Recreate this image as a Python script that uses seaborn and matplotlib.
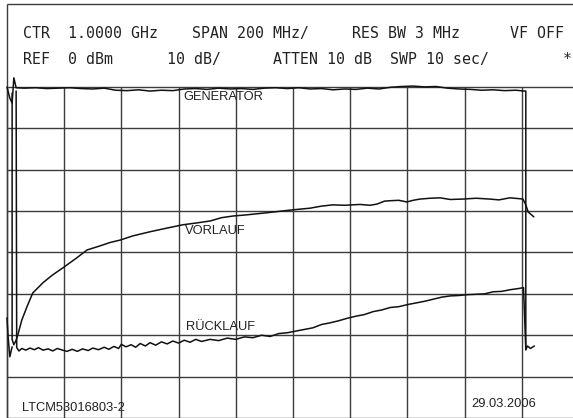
import numpy as np
import pandas as pd
import seaborn as sns
import matplotlib.pyplot as plt

# x in graticule divisions (0..10), y in dBm (REF 0 dBm, 10 dB/div)
gen_x = [0.0, 0.05, 0.09, 0.12, 0.16, 0.3, 0.5, 0.7, 0.9, 1.1, 1.3, 1.5, 1.7, 1.9,
         2.1, 2.3, 2.5, 2.7, 2.9, 3.1, 3.3, 3.5, 3.7, 3.9, 4.1, 4.3, 4.5, 4.7, 4.9,
         5.1, 5.3, 5.5, 5.7, 5.9, 6.1, 6.3, 6.5, 6.7, 6.9, 7.1, 7.3, 7.5, 7.7, 7.9,
         8.1, 8.3, 8.5, 8.7, 8.9, 9.03, 9.07, 9.07]
gen_y = [0.0, -2.7, -3.9, 2.2, -0.2, -0.3, -0.2, -0.4, -0.3, -0.2, -0.4, -0.5, -0.3, -0.8,
         -0.9, -0.7, -1.0, -0.8, -0.9, -0.5, -0.4, -0.6, -0.3, -0.5, -0.4, -0.6, -0.3, -0.2, -0.4,
         -0.2, -0.5, -0.4, -0.7, -0.5, -0.6, -0.3, -0.5, -0.1, 0.1, 0.2, 0.0, 0.1, -0.3, -0.5,
         -0.6, -0.8, -0.7, -0.9, -0.8, -1.0, -1.0, -63.5]

vor_x = [0.09, 0.09, 0.12, 0.16, 0.19, 0.26, 0.35, 0.45, 0.63, 0.80, 0.98, 1.22, 1.40, 1.63,
         1.80, 1.98, 2.2, 2.5, 2.8, 3.08, 3.3, 3.55, 3.75, 3.95, 4.2, 4.55, 4.8, 5.0, 5.3,
         5.5, 5.7, 5.9, 6.17, 6.35, 6.47, 6.6, 6.7, 6.85, 6.99, 7.1, 7.22, 7.4, 7.57, 7.75,
         7.97, 8.2, 8.44, 8.6, 8.79, 8.95, 9.02, 9.07, 9.11, 9.21]
vor_y = [-1.5, -61.0, -62.3, -61.2, -59.9, -56.3, -53.1, -49.8, -47.3, -45.4, -43.7, -41.3, -39.4, -38.4,
         -37.6, -37.0, -36.0, -35.0, -34.1, -33.3, -32.9, -32.4, -31.6, -31.2, -30.9, -30.4, -30.0, -29.7, -29.3,
         -28.8, -28.5, -28.6, -28.4, -28.6, -28.3, -27.6, -27.5, -27.4, -27.8, -27.4, -27.1, -26.9, -26.8, -27.2,
         -27.1, -26.9, -27.1, -27.3, -26.8, -27.0, -27.1, -28.5, -30.2, -31.4]

rue_x = [0.16, 0.17, 0.21, 0.26, 0.33, 0.40, 0.48, 0.55, 0.63, 0.72, 0.80, 0.88, 0.97, 1.05,
         1.14, 1.23, 1.32, 1.42, 1.50, 1.60, 1.70, 1.78, 1.87, 1.95, 2.00, 2.08, 2.17, 2.25,
         2.33, 2.42, 2.50, 2.60, 2.70, 2.80, 2.90, 3.00, 3.10, 3.20, 3.30, 3.40, 3.55, 3.70,
         3.85, 4.00, 4.15, 4.30, 4.45, 4.60, 4.75, 4.90, 5.05, 5.20, 5.35, 5.50, 5.65, 5.80,
         5.95, 6.10, 6.25, 6.40, 6.55, 6.70, 6.85, 7.00, 7.15, 7.30, 7.45, 7.60, 7.75, 7.90,
         8.05, 8.20, 8.35, 8.50, 8.65, 8.80, 8.95, 9.03, 9.07, 9.10, 9.15, 9.22]
rue_y = [-1.0, -63.0, -63.8, -63.2, -63.6, -63.1, -63.5, -63.0, -63.6, -63.3, -63.8, -63.2, -63.6, -63.9,
         -63.4, -63.9, -63.3, -63.7, -63.1, -63.5, -62.9, -63.4, -62.7, -63.2, -62.2, -62.8, -62.3, -62.9,
         -62.0, -62.6, -61.8, -62.4, -61.6, -62.1, -61.4, -61.9, -61.2, -61.7, -61.0, -61.5, -61.0, -61.3,
         -60.7, -61.0, -60.4, -60.6, -60.0, -60.3, -59.6, -59.4, -59.0, -58.6, -58.2, -57.4, -57.0, -56.5,
         -55.9, -55.4, -55.0, -54.3, -53.9, -53.3, -53.1, -52.6, -52.2, -51.8, -51.3, -50.8, -50.5, -50.4,
         -50.2, -50.1, -50.0, -49.5, -49.4, -49.0, -48.7, -48.5, -63.5, -62.6, -63.2, -62.6]

# short retrace wiggle at the far left
start_x = [0.0, 0.02, 0.05, 0.09]
start_y = [-55.8, -60.4, -65.2, -62.8]

header_1 = [(0.28, "CTR"), (1.07, "1.0000 GHz"), (3.23, "SPAN 200 MHz/"),
            (6.03, "RES BW 3 MHz"), (8.79, "VF OFF")]
header_2 = [(0.28, "REF"), (1.07, "0 dBm"), (2.80, "10 dB/"),
            (4.65, "ATTEN 10 dB"), (6.70, "SWP 10 sec/"), (9.72, "*")]

trace_labels = [(3.08, -2.4, "GENERATOR"), (3.11, -34.8, "VORLAUF"), (3.13, -58.0, "RÜCKLAUF")]

sns.set_style("white")

fig = plt.figure(figsize=(5.73, 4.18), dpi=100)
ax = fig.add_axes([0, 0, 1, 1])

grid_col = "#3c3c3c"
ax.vlines(np.arange(0, 11), -80, 0, color=grid_col, lw=1.0, zorder=1)
ax.hlines(np.arange(-80, 1, 10), 0, 10, color=grid_col, lw=1.0, zorder=1)
ax.vlines([0], -80, 20, color=grid_col, lw=1.0, zorder=1)
ax.hlines([20], 0, 10, color=grid_col, lw=1.0, zorder=1)

for xs, ys in [(gen_x, gen_y), (vor_x, vor_y), (rue_x, rue_y), (start_x, start_y)]:
    df = pd.DataFrame({"div": xs, "db": ys})
    sns.lineplot(data=df, x="div", y="db", ax=ax, sort=False, estimator=None,
                 color="#111111", lw=1.1, zorder=3)

# instrument header (plotter font)
for x, s in header_1:
    ax.text(x, 13.0, s, family="DejaVu Sans Mono", fontsize=10.7, color="#222222",
            va="center", ha="left")
for x, s in header_2:
    ax.text(x, 6.6, s, family="DejaVu Sans Mono", fontsize=10.7, color="#222222",
            va="center", ha="left")

for x, y, s in trace_labels:
    ax.text(x, y, s, family="Liberation Sans", fontsize=9.3, color="#222222",
            va="center", ha="left", zorder=4)

ax.text(0.26, -77.5, "LTCM53016803-2", family="Liberation Sans", fontsize=9.3,
        color="#222222", va="center", ha="left")
ax.text(8.11, -76.6, "29.03.2006", family="Liberation Sans", fontsize=9.3,
        color="#222222", va="center", ha="left")

ax.set_xlim(-0.122, 9.895)
ax.set_ylim(-80, 21.0)
ax.set_xlabel("")
ax.set_ylabel("")
ax.set_xticks([])
ax.set_yticks([])
for sp in ax.spines.values():
    sp.set_visible(False)

fig.savefig("out.png", dpi=100)
